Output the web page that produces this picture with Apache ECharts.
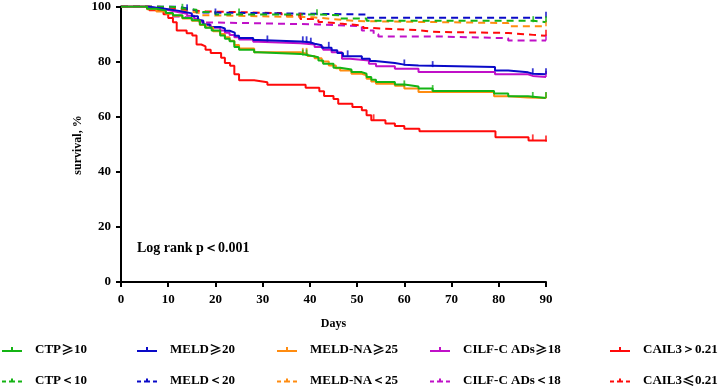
<!DOCTYPE html>
<html>
<head>
<meta charset="utf-8">
<script src="https://cdn.jsdelivr.net/npm/echarts@6/dist/echarts.min.js"></script>
<style>
  html, body { margin: 0; padding: 0; background: #fff; }
  #chart { width: 724px; height: 389px; }
</style>
</head>
<body>
<div id="chart"></div>
<script>
// Kaplan-Meier steps: [day, survival %]
const ctpHigh = [[0,100],[5.5,99.2],[7.5,98.5],[9.5,97.6],[11,96.8],[13,95.8],[15,95],[16.7,93.5],[17.8,92.3],[19.2,91.3],[21,89.5],[22,88.3],[23,87.4],[24,85.3],[25,84.3],[28.2,83.4],[29,82.8],[38,82.2],[40,81.6],[41.8,80.4],[42.8,79.2],[45,77.8],[46.4,77.1],[48.8,76.2],[51,75.6],[52,74.4],[53,73.4],[54,72.6],[58,71.7],[60,71],[63,70.2],[66,69.3],[79,68.4],[82,67.4],[86.2,66.8],[90,66.8]];
const meldHigh = [[0,100],[5.5,99.5],[8,99],[10,98.5],[12,98],[13.5,97.5],[15,96.5],[16.3,94.9],[17.4,93.5],[18.8,92.6],[21,92],[22,91.2],[23,90.5],[24.1,89.4],[25,88.6],[28,87.8],[29,87.3],[38,87],[40,86.5],[41,85.9],[42.5,85],[44.6,84.1],[45.8,83.1],[47,81.9],[51,81],[52.7,80.2],[53.8,79.5],[58,78.9],[60,78.6],[63,78],[79.2,76.8],[82,76.1],[86.2,75.6],[87.2,75.4],[90,75.4]];
const meldNaHigh = [[0,100],[5.5,99],[7.5,98.2],[9.5,97.4],[11,96.6],[13,95.6],[15,94.8],[16.7,93.3],[18,92.4],[19.5,91],[21,90],[22,88.8],[23,87.6],[24,86],[25,84.8],[28.2,83.4],[38,82.8],[39.5,82],[41,81.2],[42.5,80],[44,78.6],[45.5,77.6],[46.4,76.8],[48.8,75.6],[51,75],[52,73.8],[53,72.8],[54,72],[58,71.2],[60,70.2],[63,69],[79,67.4],[82,67],[86.2,66.8],[90,66.6]];
const cilfHigh = [[0,100],[5.5,99.3],[8,98.7],[10,98],[12,97.4],[14,96.6],[15.5,95.5],[16.5,94.5],[17.5,93.4],[19,92.3],[21,91.3],[22,90.5],[23,89.7],[24,88.8],[25,88],[28,87.2],[29,86.7],[38,86.2],[41,85.3],[42.8,84.3],[44.6,83.4],[46.8,81],[48.5,80.4],[52.5,79.2],[54,78.3],[58,77.4],[63,76.2],[79.2,75.4],[86.2,74.8],[87.2,74.4],[90,74.4]];
const cailHigh = [[0,100],[6,98.6],[9,97.2],[10,95.8],[11,94.3],[11.8,91.3],[13.9,90.3],[15.1,89.5],[16,86.2],[17,85.5],[17.9,84.3],[19,83.1],[21.2,81.4],[22,79.5],[23.1,78.5],[24,75.4],[25,73.2],[28.2,72.5],[31,71.6],[39.1,70.5],[42,69.2],[43,67.5],[45,66.4],[46,64.7],[49,63.5],[51,62.3],[52,60.5],[53,58.7],[56,57.5],[58,56.6],[60,55.6],[63.2,54.7],[79.3,52.5],[86.3,51.4],[90,51]];
const ctpLow = [[0,100],[10.4,99.4],[13,98.8],[16,98],[20,97.1],[41.5,96.8],[46.5,95.6],[52,94.8],[87.3,94.3],[90,94.3]];
const meldLow = [[0,100],[12,99.3],[14,98.6],[16,97.8],[20,97.1],[52,95.9],[90,95.9]];
const meldNaLow = [[0,100],[6,99.4],[8,98.8],[11,98.2],[14,97.6],[17,96.8],[19,96.1],[40.7,95.4],[45,94.7],[50,94],[82,92.8],[90,92.8]];
const cilfLow = [[0,100],[5,99.4],[8,98.6],[9.5,97.4],[11,96.4],[13,95.7],[15,95],[17,94.2],[20,93.5],[41.8,92.8],[51,91.3],[53.5,89.9],[54.5,89.1],[67.5,88.5],[82,87.7],[90,87.7]];
const cailLow = [[0,100],[8,99.4],[10,98.8],[13,98.2],[18,97.6],[34,96.6],[38,95.5],[41.8,94.4],[42.5,93.8],[46.4,93.1],[51.3,92.2],[53,91.8],[57.7,91.4],[63,90.8],[66,90.4],[82,89.7],[87.3,89.4],[90,89.4]];

// censoring marks (days)
const ctpHighCens = [38.5, 39.3, 60, 66, 87.2, 90];
const meldHighCens = [31, 38.5, 39.3, 40.2, 44, 48, 60, 66, 87.2, 90];
const meldNaHighCens = [38.5, 39.3, 90];
const cilfHighCens = [90];
const cailHighCens = [53.5, 87.2, 90];
const ctpLowCens = [13, 25, 41.5, 87.3, 90];
const meldLowCens = [14, 20, 90];
const meldNaLowCens = [90];
const cilfLowCens = [90];
const cailLowCens = [38, 90];

const xTicks = [0, 10, 20, 30, 40, 50, 60, 70, 80, 90];
const yTicks = [0, 20, 40, 60, 80, 100];

const groups = [
  { name: 'CTP≥10', data: ctpHigh, cens: ctpHighCens, color: '#14b414', dashed: false, col: 0, row: 0 },
  { name: 'MELD≥20', data: meldHigh, cens: meldHighCens, color: '#0a0ac8', dashed: false, col: 1, row: 0 },
  { name: 'MELD-NA≥25', data: meldNaHigh, cens: meldNaHighCens, color: '#ff8c10', dashed: false, col: 2, row: 0 },
  { name: 'CILF-C ADs≥18', data: cilfHigh, cens: cilfHighCens, color: '#c010c8', dashed: false, col: 3, row: 0 },
  { name: 'CAIL3＞0.21', data: cailHigh, cens: cailHighCens, color: '#ff0a0a', dashed: false, col: 4, row: 0 },
  { name: 'CTP＜10', data: ctpLow, cens: ctpLowCens, color: '#14b414', dashed: true, col: 0, row: 1 },
  { name: 'MELD＜20', data: meldLow, cens: meldLowCens, color: '#0a0ac8', dashed: true, col: 1, row: 1 },
  { name: 'MELD-NA＜25', data: meldNaLow, cens: meldNaLowCens, color: '#ff8c10', dashed: true, col: 2, row: 1 },
  { name: 'CILF-C ADs＜18', data: cilfLow, cens: cilfLowCens, color: '#c010c8', dashed: true, col: 3, row: 1 },
  { name: 'CAIL3≤0.21', data: cailLow, cens: cailLowCens, color: '#ff0a0a', dashed: true, col: 4, row: 1 }
];

// draw order: dashed first, then red, magenta, blue, orange, green on top
const drawOrder = [8, 9, 7, 6, 5, 4, 3, 1, 2, 0];

const FONT = '"Liberation Serif", "Times New Roman", serif';
const CJK = '"Noto Sans CJK SC", sans-serif';
const legendLeft = [2, 137, 277, 430, 610];
const legendTop = [343, 374];

function survAt(data, day) {
  let v = data[0][1];
  for (const p of data) { if (p[0] <= day) v = p[1]; }
  return v;
}

const series = [];
for (const i of drawOrder) {
  const g = groups[i];
  series.push({
    name: g.name,
    type: 'line',
    step: 'end',
    data: g.data,
    showSymbol: false,
    symbol: 'none',
    color: g.color,
    itemStyle: { color: g.color },
    lineStyle: { color: g.color, width: 2, type: g.dashed ? [7, 5] : 'solid' },
    z: 2
  });
  series.push({
    name: g.name + ' cens',
    type: 'scatter',
    data: g.cens.map((d) => [d, survAt(g.data, d)]),
    symbol: 'rect',
    symbolSize: [1.8, 6],
    symbolOffset: [0, -3],
    itemStyle: { color: g.color },
    silent: true,
    z: 3
  });
}

const solidIcon = 'path://M0,3H20V5H0Z M9,0H11V3H9Z';
const dashedIcon = 'path://M0,3H4V5H0Z M7,3H13V5H7Z M9,1H11V3H9Z M16,3H20V5H16Z';

const legends = groups.map((g) => ({
  left: legendLeft[g.col],
  top: legendTop[g.row],
  padding: 0,
  data: [{ name: g.name, icon: g.dashed ? dashedIcon : solidIcon }],
  itemWidth: 20,
  itemHeight: g.dashed ? 4 : 5,
  selectedMode: false,
  formatter: (name) => '{p|}' + name.replace(/([≥≤])/g, '{s|$1}'),
  textStyle: {
    fontFamily: FONT, fontWeight: 'bold', fontSize: 13, color: '#000',
    rich: {
      p: { width: 8 },
      s: { fontFamily: CJK, fontWeight: 'bold', fontSize: 13, color: '#000' }
    }
  }
}));

const chart = echarts.init(document.getElementById('chart'), null, { renderer: 'canvas' });
chart.setOption({
  animation: false,
  backgroundColor: '#fff',
  grid: { left: 121, right: 178, top: 6, bottom: 107, containLabel: false },
  legend: legends,
  xAxis: {
    type: 'value',
    min: xTicks[0],
    max: xTicks[xTicks.length - 1],
    interval: 10,
    name: 'Days',
    nameLocation: 'middle',
    nameGap: 36,
    nameTextStyle: { fontFamily: FONT, fontWeight: 'bold', fontSize: 12, color: '#000' },
    axisLine: { lineStyle: { color: '#000', width: 2 } },
    axisTick: { length: 5, lineStyle: { color: '#000', width: 2 } },
    axisLabel: { fontFamily: FONT, fontWeight: 'bold', fontSize: 13, color: '#000', margin: 11 },
    splitLine: { show: false }
  },
  yAxis: {
    type: 'value',
    min: yTicks[0],
    max: yTicks[yTicks.length - 1],
    interval: 20,
    axisLine: { lineStyle: { color: '#000', width: 2 } },
    axisTick: { length: 5, lineStyle: { color: '#000', width: 2 } },
    axisLabel: { fontFamily: FONT, fontWeight: 'bold', fontSize: 13, color: '#000', margin: 10 },
    splitLine: { show: false }
  },
  graphic: [{
    type: 'text',
    left: 137,
    top: 241,
    style: { text: 'Log rank p＜0.001', font: 'bold 14px ' + FONT, fill: '#000' }
  }, {
    type: 'text',
    x: 78,
    y: 145,
    rotation: Math.PI / 2,
    style: {
      text: 'survival, %', font: 'bold 12px ' + FONT, fill: '#000',
      align: 'center', verticalAlign: 'middle'
    }
  }],
  series: series
});
</script>
</body>
</html>
